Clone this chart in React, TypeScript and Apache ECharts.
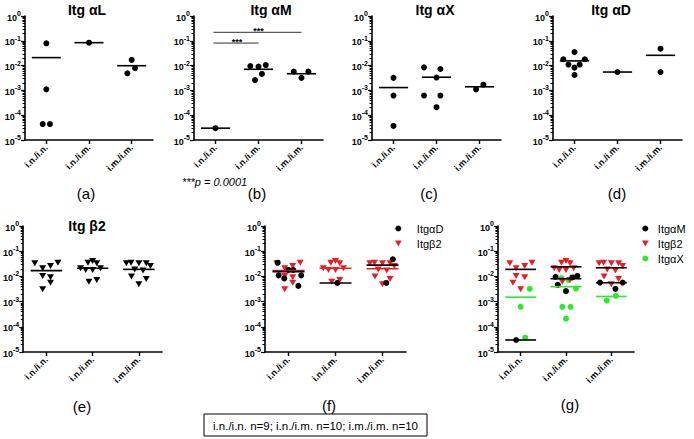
import React, { useEffect, useRef } from 'react';
import * as echarts from 'echarts';

const FONT = '"Liberation Sans", Arial, Helvetica, sans-serif';

const categories = ['i.n./i.n.', 'i.n./i.m.', 'i.m./i.m.'];
const caption = 'i.n./i.n. n=9; i.n./i.m. n=10; i.m./i.m. n=10';

// (a) Itg αL
const itgAL = [[0.079, 0.0011, 0.000044, 0.000044], [0.084], [0.017, 0.0078, 0.0049]];
const itgALMean = [0.021, 0.084, 0.0099];
const itgALSpread = [[0, 0, -0.085, 0.085], [0], [0, 0.08, -0.1]];

// (b) Itg αM
const itgAM = [[0.00003], [0.0096, 0.0091, 0.0105, 0.0026, 0.0046], [0.0057, 0.0057, 0.0032]];
const itgAMMean = [0.00003, 0.0071, 0.0047];
const itgAMSpread = [[0], [-0.19, 0, 0.17, -0.08, 0.08], [-0.18, 0.16, 0]];
const sigPairs = [[1, 2], [1, 3]];
const sigLevels = [0.081, 0.22];
const sigText = '***';
const pNote = '***p = 0.0001';

// (c) Itg αX
const itgAX = [[0.0032, 0.00062, 0.000037], [0.0085, 0.0073, 0.0033, 0.00062, 0.00062, 0.00021], [0.0011, 0.0017]];
const itgAXMean = [0.0013, 0.0034, 0.0014];
const itgAXSpread = [[0, 0, 0], [-0.29, 0.09, 0, -0.29, 0.09, 0], [-0.08, 0.09]];

// (d) Itg αD
const itgAD = [[0.035, 0.018, 0.018, 0.011, 0.011, 0.0083, 0.0042], [0.0055], [0.048, 0.0055]];
const itgADMean = [0.0155, 0.0055, 0.026];
const itgADSpread = [[0, -0.26, 0.24, -0.14, 0.12, 0, 0], [0], [0, 0]];

// (e) Itg β2
const itgB2 = [
  [0.033, 0.035, 0.021, 0.026, 0.0104, 0.0092, 0.0056, 0.0031],
  [0.035, 0.041, 0.033, 0.021, 0.018, 0.018, 0.021, 0.0062, 0.0072],
  [0.033, 0.035, 0.033, 0.033, 0.026, 0.019, 0.017, 0.0098, 0.0079, 0.0049],
];
const itgB2Mean = [0.017, 0.021, 0.019];
const itgB2Spread = [
  [-0.25, 0.25, -0.08, 0.09, -0.08, 0.09, 0.09, -0.08],
  [-0.1, 0, 0.09, -0.26, -0.15, 0, 0.17, -0.08, 0.09],
  [-0.27, -0.17, 0, 0.16, 0.25, -0.09, 0.09, -0.16, 0.16, 0],
];

// (f) αD + β2 overlay
const fADSpread = [[-0.23, 0, 0.1, -0.21, 0.27, -0.09, 0.21], [0.04], [0.22, 0.08]];
const fADLine = [0.0155, 0.0055, 0.028];
const fB2Line = [0.017, 0.021, 0.02];

// (g) αM + β2 + αX overlay
const gAMSpread = [[-0.1], [-0.23, 0.14, 0.25, 0, -0.18], [-0.25, 0.25, 0.09]];
const gAXSpread = [[0.2, 0, 0.1], [-0.1, 0.05, 0.22, -0.08, 0.1, 0], [-0.1, 0.1]];
const gB2Spread = [
  [-0.24, 0.25, -0.1, 0.09, -0.1, 0.09, -0.17, 0],
  [-0.1, 0, 0.09, -0.26, -0.15, 0, 0.17, -0.08, 0.09],
  [-0.27, -0.17, 0, 0.16, 0.25, -0.09, 0.09, -0.16, 0.16, 0],
];
const gB2Line = [0.019, 0.024, 0.022];
const gAMLine = [0.00003, 0.0081, 0.0056];
const gAXLine = [0.0015, 0.0039, 0.0016];

const titles = ['Itg αL', 'Itg αM', 'Itg αX', 'Itg αD', 'Itg β2'];
const panelLabels = ['(a)', '(b)', '(c)', '(d)', '(e)', '(f)', '(g)'];
const legendF = ['ItgαD', 'Itgβ2'];
const legendG = ['ItgαM', 'Itgβ2', 'ItgαX'];

// ---------- layout / style ----------
const panels = [
  { left: 25, top: 16, width: 128, height: 124 },
  { left: 194, top: 16, width: 129, height: 124 },
  { left: 372, top: 16, width: 129, height: 124 },
  { left: 553, top: 16, width: 129, height: 124 },
  { left: 23, top: 226, width: 139, height: 126 },
  { left: 265, top: 226, width: 141, height: 126 },
  { left: 498, top: 226, width: 136, height: 126 },
];
const titlePos = [[87, 10], [271, 10], [435, 10], [611, 10], [87, 226]];
const labelPos = [[86, 193], [257, 193], [429, 193], [617, 193], [82, 406], [329, 405], [570, 404]];

const RED = '#ec1c24';
const GREEN = '#2ee82e';
const BLACK = '#000';
const TRI = 'path://M0,0L10,0L5,9Z';
const HALF = 0.34;

const pts = (groups: number[][], spread: number[][]) =>
  groups.flatMap((g, i) => g.map((v, j) => [i + 1 + spread[i][j], v]));

function scatter(name: string, idx: number, groups: number[][], spread: number[][], color: string, tri: boolean, z = 3) {
  return {
    type: 'scatter',
    name,
    xAxisIndex: idx,
    yAxisIndex: idx,
    symbol: tri ? TRI : 'circle',
    symbolSize: tri ? [7, 6] : 6,
    itemStyle: { color, opacity: 1 },
    data: pts(groups, spread),
    z,
    silent: true,
  };
}

function meanLines(name: string, idx: number, means: number[], color: string) {
  return {
    type: 'custom',
    name,
    xAxisIndex: idx,
    yAxisIndex: idx,
    z: 10,
    silent: true,
    encode: { x: 0, y: 1 },
    data: means.map((m, i) => [i + 1, m]),
    renderItem: (_p: any, api: any) => {
      const c = api.value(0);
      const m = api.value(1);
      const a = api.coord([c - HALF, m]);
      const b = api.coord([c + HALF, m]);
      return {
        type: 'line',
        shape: { x1: a[0], y1: a[1], x2: b[0], y2: b[1] },
        style: { stroke: color, lineWidth: 1.6 },
      };
    },
  };
}

function sigSeries(idx: number) {
  return {
    type: 'custom',
    name: 'sig',
    xAxisIndex: idx,
    yAxisIndex: idx,
    z: 10,
    silent: true,
    encode: { x: [0, 1], y: 2 },
    data: sigPairs.map((p, i) => [p[0], p[1], sigLevels[i]]),
    renderItem: (_p: any, api: any) => {
      const a = api.coord([api.value(0), api.value(2)]);
      const b = api.coord([api.value(1), api.value(2)]);
      return {
        type: 'group',
        children: [
          { type: 'line', shape: { x1: a[0] - 2, y1: a[1], x2: b[0], y2: b[1] }, style: { stroke: '#333', lineWidth: 1 } },
          {
            type: 'text',
            x: (a[0] + b[0]) / 2,
            y: a[1] + 3,
            style: {
              text: sigText, fill: '#000', font: `bold 9px ${FONT}`,
              align: 'center', verticalAlign: 'bottom', textAlign: 'center', textVerticalAlign: 'bottom',
            },
          },
        ],
      };
    },
  };
}

const supRich = {
  b: { fontSize: 9, fontWeight: 'bold', fontFamily: FONT, lineHeight: 12, verticalAlign: 'bottom', color: '#000' },
  s: { fontSize: 7, fontWeight: 'bold', fontFamily: FONT, lineHeight: 12, verticalAlign: 'top', color: '#000' },
};

function textEl(text: string, x: number, y: number, font: string, align = 'center') {
  return {
    type: 'text',
    x,
    y,
    style: {
      text, font, fill: '#000',
      align, verticalAlign: 'middle', textAlign: align, textVerticalAlign: 'middle',
    },
  };
}

export default function App() {
  const ref = useRef<HTMLDivElement>(null);
  useEffect(() => {
    if (!ref.current) return;
    const chart = echarts.init(ref.current, undefined, { renderer: 'svg' });

    const option: any = {
      animation: false,
      backgroundColor: '#fff',
      textStyle: { fontFamily: FONT },
      grid: panels.map((p) => ({ ...p, containLabel: false })),
      xAxis: panels.map((_, i) => ({
        type: 'value',
        gridIndex: i,
        min: 0.5,
        max: 3.5,
        splitLine: { show: false },
        axisLine: { show: true, onZero: false, lineStyle: { color: '#000', width: 1.6 } },
        axisTick: { show: true, customValues: [1, 2, 3], length: 4, lineStyle: { color: '#000', width: 1.4 } },
        axisLabel: {
          show: true,
          customValues: [1, 2, 3],
          formatter: (v: number) => categories[Math.round(v) - 1] ?? '',
          rotate: 45,
          margin: 6,
          fontSize: 9,
          fontWeight: 'bold',
          fontFamily: FONT,
          color: '#000',
        },
      })),
      yAxis: panels.map((_, i) => ({
        type: 'log',
        logBase: 10,
        gridIndex: i,
        min: 0.00001,
        max: 1,
        splitNumber: 5,
        splitLine: { show: false },
        axisLine: { show: true, onZero: false, lineStyle: { color: '#000', width: 1.6 } },
        axisTick: { show: true, length: 4, lineStyle: { color: '#000', width: 1.2 } },
        minorTick: { show: true, splitNumber: 9, length: 2.5, lineStyle: { color: '#000', width: 1 } },
        axisLabel: {
          margin: 4,
          color: '#000',
          formatter: (v: number) => `{b|10}{s|${Math.round(Math.log10(v))}}`,
          rich: supRich,
        },
      })),
      legend: [
        {
          left: 390, top: 217, orient: 'vertical', itemWidth: 27, itemHeight: 6, itemGap: 2,
          selectedMode: false, data: legendF,
          textStyle: { fontSize: 11, lineHeight: 13, color: '#000', fontFamily: FONT },
        },
        {
          left: 637, top: 217, orient: 'vertical', itemWidth: 15, itemHeight: 6, itemGap: 2,
          selectedMode: false, data: legendG,
          textStyle: { fontSize: 11, lineHeight: 13, color: '#000', fontFamily: FONT },
        },
      ],
      series: [
        scatter('a', 0, itgAL, itgALSpread, BLACK, false),
        meanLines('aMean', 0, itgALMean, BLACK),
        scatter('b', 1, itgAM, itgAMSpread, BLACK, false),
        meanLines('bMean', 1, itgAMMean, BLACK),
        sigSeries(1),
        scatter('c', 2, itgAX, itgAXSpread, BLACK, false),
        meanLines('cMean', 2, itgAXMean, BLACK),
        scatter('d', 3, itgAD, itgADSpread, BLACK, false),
        meanLines('dMean', 3, itgADMean, BLACK),
        scatter('e', 4, itgB2, itgB2Spread, BLACK, true),
        meanLines('eMean', 4, itgB2Mean, BLACK),
        scatter('Itgβ2', 5, itgB2, itgB2Spread, RED, true, 3),
        scatter('ItgαD', 5, itgAD, fADSpread, BLACK, false, 4),
        meanLines('fB2', 5, fB2Line, RED),
        meanLines('fAD', 5, fADLine, BLACK),
        scatter('ItgαX', 6, itgAX, gAXSpread, GREEN, false, 2),
        scatter('Itgβ2', 6, itgB2, gB2Spread, RED, true, 3),
        scatter('ItgαM', 6, itgAM, gAMSpread, BLACK, false, 4),
        meanLines('gB2', 6, gB2Line, BLACK),
        meanLines('gAM', 6, gAMLine, BLACK),
        meanLines('gAX', 6, gAXLine, GREEN),
      ],
      graphic: [
        ...titles.map((t, i) => textEl(t, titlePos[i][0], titlePos[i][1], `bold 14px ${FONT}`)),
        ...panelLabels.map((t, i) => textEl(t, labelPos[i][0], labelPos[i][1], `15px ${FONT}`)),
        textEl(pNote, 182, 182, `italic 11px ${FONT}`, 'left'),
        {
          type: 'rect',
          shape: { x: 204, y: 414, width: 223, height: 22 },
          style: { fill: '#fff', stroke: '#000', lineWidth: 1 },
        },
        textEl(caption, 315.5, 425.5, `11.5px ${FONT}`),
      ],
    };
    chart.setOption(option);
    return () => chart.dispose();
  }, []);
  return <div ref={ref} style={{ position: 'fixed', left: 0, top: 0, width: 694, height: 439 }} />;
}
